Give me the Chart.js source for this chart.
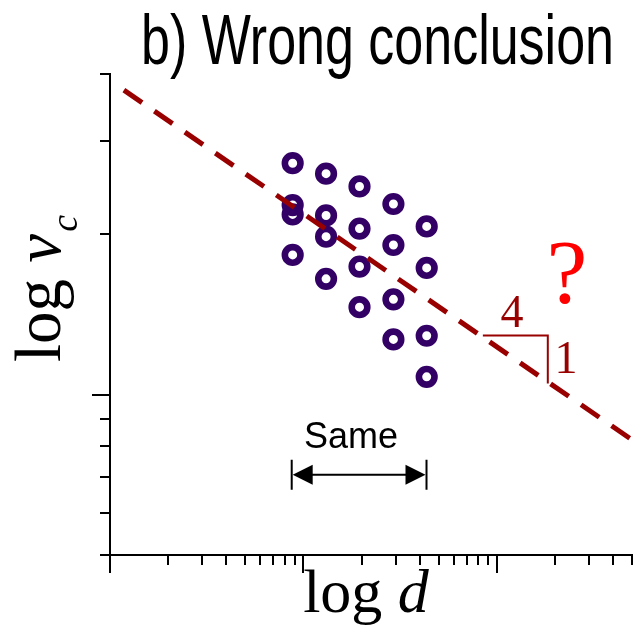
<!DOCTYPE html>
<html>
<head>
<meta charset="utf-8">
<script src="https://cdn.jsdelivr.net/npm/chart.js@4"></script>
<style>
  html, body { margin: 0; padding: 0; background: #fff; }
  canvas { display: block; }
</style>
</head>
<body>
<canvas id="chart" width="635" height="640"></canvas>
<script>
// ---- data (x = d, y = v_c, both log axes) ----
const sizeD = [8.8, 13.1, 19.5, 29.2, 43.4];     // the five columns of points
const vcCol1 = [2.72, 2.27, 2.18, 1.83];
const vcCol2 = [2.60, 2.17, 1.98, 1.65];
const vcCol3 = [2.46, 2.05, 1.74, 1.46];
const vcCol4 = [2.28, 1.91, 1.51, 1.27];
const vcCol5 = [2.07, 1.73, 1.29, 1.08];

// dashed "fit" line, slope -1/4
const fitD = [1.18, 487];
const fitV = [3.73, 0.828];

// slope triangle (4 across, 1 down)
const triD = [84.7, 183.5, 183.5];
const triV = [1.291, 1.291, 1.049];

// "Same" arrow span in d
const sameD = [8.7, 43.3];
const sameV = 0.707;

// axis ranges and tick marks (no tick labels)
const xRange = [1, 500];
const yRange = [0.5, 4];
const xMajorTicks = [1, 10, 100];
const xMinorTicks = [2, 3, 4, 5, 6, 7, 8, 9, 20, 30, 40, 50, 60, 70, 80, 90, 200, 300, 400, 500];
const yMajorTicks = [1];
const yMinorTicks = [0.5, 0.6, 0.7, 0.8, 0.9, 2, 3, 4];

const pointColor = '#330066';
const darkRed = '#990000';

// build the scatter table from the columns
const columns = [vcCol1, vcCol2, vcCol3, vcCol4, vcCol5];
const scatterData = [];
columns.forEach((col, i) => {
  col.forEach(v => scatterData.push({ x: sizeD[i], y: v }));
});
const fitData = fitD.map((d, i) => ({ x: d, y: fitV[i] }));
const triData = triD.map((d, i) => ({ x: d, y: triV[i] }));

// tick marks of two lengths + all the text annotations
const decorPlugin = {
  id: 'decor',
  afterDraw(chart) {
    const ctx = chart.ctx;
    const xs = chart.scales.x, ys = chart.scales.y;
    const area = chart.chartArea;

    ctx.save();
    ctx.strokeStyle = '#000';
    ctx.lineWidth = 2;
    ctx.lineCap = 'butt';
    const xTick = (v, len) => {
      const px = Math.round(xs.getPixelForValue(v));
      ctx.beginPath(); ctx.moveTo(px, area.bottom); ctx.lineTo(px, area.bottom + len); ctx.stroke();
    };
    const yTick = (v, len) => {
      const py = Math.round(ys.getPixelForValue(v));
      ctx.beginPath(); ctx.moveTo(area.left, py); ctx.lineTo(area.left - len, py); ctx.stroke();
    };
    xMajorTicks.forEach(v => xTick(v, 18));
    xMinorTicks.forEach(v => xTick(v, 10));
    yMajorTicks.forEach(v => yTick(v, 18));
    yMinorTicks.forEach(v => yTick(v, 10));

    // "Same" double arrow
    const ax0 = xs.getPixelForValue(sameD[0]);
    const ax1 = xs.getPixelForValue(sameD[1]);
    const ay = ys.getPixelForValue(sameV);
    ctx.lineWidth = 2;
    ctx.beginPath();
    ctx.moveTo(ax0, ay - 15); ctx.lineTo(ax0, ay + 15);
    ctx.moveTo(ax1, ay - 15); ctx.lineTo(ax1, ay + 15);
    ctx.moveTo(ax0 + 10, ay); ctx.lineTo(ax1 - 10, ay);
    ctx.stroke();
    ctx.fillStyle = '#000';
    ctx.beginPath();
    ctx.moveTo(ax0 + 1, ay); ctx.lineTo(ax0 + 21, ay - 10); ctx.lineTo(ax0 + 21, ay + 10); ctx.closePath();
    ctx.fill();
    ctx.beginPath();
    ctx.moveTo(ax1 - 1, ay); ctx.lineTo(ax1 - 21, ay - 10); ctx.lineTo(ax1 - 21, ay + 10); ctx.closePath();
    ctx.fill();

    ctx.textBaseline = 'alphabetic';
    ctx.textAlign = 'center';
    ctx.font = '36px "Liberation Sans", Arial, sans-serif';
    ctx.fillText('Same', (ax0 + ax1) / 2 - 8, ay - 27);

    // slope numbers and question mark
    ctx.fillStyle = darkRed;
    ctx.font = '46px "Liberation Serif", "Times New Roman", serif';
    ctx.fillText('4', 512, 327);
    ctx.fillText('1', 566, 373);
    ctx.fillStyle = '#ff0000';
    ctx.font = '92px "Liberation Serif", "Times New Roman", serif';
    ctx.fillText('?', 567, 303);

    // title, condensed sans
    ctx.fillStyle = '#000';
    ctx.textAlign = 'left';
    ctx.font = '70px "Liberation Sans Narrow", "Liberation Sans", Arial, sans-serif';
    const title = 'b) Wrong conclusion';
    const tw = ctx.measureText(title).width;
    ctx.save();
    ctx.translate(141, 64);
    ctx.scale(473 / tw, 1);
    ctx.fillText(title, 0, 0);
    ctx.restore();

    // x axis title: log d
    const serif = '"Liberation Serif", "Times New Roman", serif';
    ctx.font = '62px ' + serif;
    const w1 = ctx.measureText('log ').width;
    ctx.font = 'italic 62px ' + serif;
    const w2 = ctx.measureText('d').width;
    let sx = 366 - (w1 + w2) / 2;
    ctx.font = '62px ' + serif;
    ctx.fillText('log ', sx, 612);
    ctx.font = 'italic 62px ' + serif;
    ctx.fillText('d', sx + w1, 612);

    // y axis title: log v_c, rotated
    ctx.save();
    ctx.translate(60, 362);
    ctx.rotate(-Math.PI / 2);
    ctx.font = '65px ' + serif;
    ctx.fillText('log ', 0, 0);
    const l1 = ctx.measureText('log ').width;
    ctx.font = 'italic 65px ' + serif;
    ctx.fillText('ν', l1, 0);
    const l2 = ctx.measureText('ν').width;
    ctx.font = 'italic 38px ' + serif;
    ctx.fillText('c', l1 + l2 + 2, 17);
    ctx.restore();

    ctx.restore();
  }
};

new Chart(document.getElementById('chart'), {
  type: 'scatter',
  data: {
    datasets: [
      {
        label: 'fit',
        type: 'line',
        data: fitData,
        borderColor: darkRed,
        borderWidth: 5,
        borderDash: [22, 15],
        pointRadius: 0,
        fill: false,
        order: 0
      },
      {
        label: 'triangle',
        type: 'line',
        data: triData,
        borderColor: darkRed,
        borderWidth: 2,
        pointRadius: 0,
        fill: false,
        order: 0
      },
      {
        label: 'measurements',
        data: scatterData,
        pointStyle: 'circle',
        pointRadius: 7.8,
        pointBorderWidth: 6.6,
        pointBackgroundColor: 'rgba(0,0,0,0)',
        pointBorderColor: pointColor,
        order: 1
      }
    ]
  },
  options: {
    responsive: false,
    animation: false,
    layout: { autoPadding: false, padding: { left: 110, top: 74, right: 3, bottom: 85 } },
    plugins: {
      legend: { display: false },
      tooltip: { enabled: false },
      title: { display: false }
    },
    scales: {
      x: {
        type: 'logarithmic',
        min: xRange[0],
        max: xRange[1],
        ticks: { display: false },
        grid: { display: false, drawTicks: false },
        border: { display: true, color: '#000', width: 2 }
      },
      y: {
        type: 'logarithmic',
        min: yRange[0],
        max: yRange[1],
        ticks: { display: false },
        grid: { display: false, drawTicks: false },
        border: { display: true, color: '#000', width: 2 }
      }
    }
  },
  plugins: [decorPlugin]
});
</script>
</body>
</html>
